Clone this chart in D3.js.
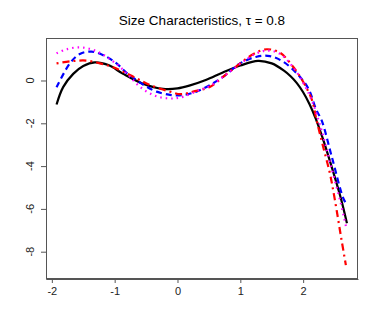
<!DOCTYPE html>
<html><head><meta charset="utf-8">
<script src="https://cdn.jsdelivr.net/npm/d3@7"></script>
<style>body{margin:0;background:#fff}svg{display:block}</style>
</head><body>
<svg id="c" width="382" height="327"></svg>
<script>
const xTicks = [-2, -1, 0, 1, 2];
const yTicks = [0, -2, -4, -6, -8];
const titleText = "Size Characteristics, \u03C4 = 0.8";

const blackX = [-1.925,-1.82,-1.66,-1.5,-1.315,-1.1,-0.865,-0.55,-0.23,0.0,0.2,0.45,0.73,1.0,1.28,1.5,1.7,1.8,1.9,2.0,2.1,2.2,2.3,2.43,2.6,2.697];
const blackY = [-1.12,-0.31,0.31,0.68,0.85,0.72,0.31,-0.15,-0.39,-0.37,-0.23,0.02,0.39,0.70,0.92,0.80,0.45,0.20,-0.12,-0.55,-1.10,-1.78,-2.60,-3.80,-5.50,-6.67];

const blueX = [-1.925,-1.713,-1.554,-1.368,-1.151,-0.970,-0.811,-0.652,-0.493,-0.333,-0.095,0.09,0.30,0.52,0.73,0.997,1.26,1.47,1.68,1.896,2.08,2.21,2.293,2.457,2.637,2.691];
const blueY = [-0.32,0.80,1.24,1.35,1.14,0.80,0.36,0.02,-0.29,-0.52,-0.68,-0.68,-0.52,-0.21,0.18,0.80,1.11,1.14,0.88,0.34,-0.36,-1.38,-1.85,-3.58,-5.49,-5.78];

const redX = [-1.925,-1.66,-1.447,-1.235,-1.023,-0.864,-0.651,-0.439,-0.12,0.04,0.147,0.25,0.52,0.73,0.997,1.21,1.42,1.63,1.84,2.0,2.14,2.213,2.318,2.425,2.505,2.611,2.68];
const redY = [0.80,0.91,0.93,0.80,0.62,0.41,0.10,-0.21,-0.52,-0.64,-0.60,-0.52,-0.29,0.18,0.80,1.24,1.46,1.30,0.64,-0.06,-0.91,-1.85,-3.09,-4.33,-5.58,-7.45,-8.63];

const magX = [-1.925,-1.766,-1.554,-1.342,-1.13,-0.917,-0.758,-0.599,-0.386,-0.174,0.038,0.356,0.52,0.73,1.0,1.21,1.42,1.63,1.84,2.0,2.14,2.29,2.43,2.6,2.69];
const magY = [1.27,1.46,1.55,1.43,1.11,0.64,0.18,-0.29,-0.68,-0.83,-0.80,-0.44,-0.25,0.18,0.78,1.20,1.40,1.25,0.62,-0.10,-0.95,-2.30,-3.85,-5.75,-6.93];

const series = [
  {x: blackX, y: blackY, color: "#000000", dash: null, w: 2.2},
  {x: blueX, y: blueY, color: "#0000ff", dash: "6,4", w: 2.2},
  {x: redX, y: redY, color: "#ff0000", dash: "2,4,7,4", w: 2.2},
  {x: magX, y: magY, color: "#ff00ff", dash: "1.5,4", w: 2.2}
];

const L = 46, R = 358, T = 38, B = 279;
const svg = d3.select("#c");
const x = d3.scaleLinear().domain([-2.093, 2.873]).range([L, R]);
const y = d3.scaleLinear().domain([-9.276, 1.986]).range([B, T]);

const line = d3.line().x(d => x(d[0])).y(d => y(d[1])).curve(d3.curveCatmullRom.alpha(0.5));

svg.append("clipPath").attr("id","cp").append("rect").attr("x",L).attr("y",T).attr("width",R-L).attr("height",B-T);

const g = svg.append("g").attr("clip-path","url(#cp)");
series.forEach(s => {
  const pts = s.x.map((v,i) => [v, s.y[i]]);
  g.append("path").attr("d", line(pts)).attr("fill","none")
    .attr("stroke", s.color).attr("stroke-width", s.w)
    .attr("stroke-dasharray", s.dash).attr("stroke-linejoin","round");
});

svg.append("rect").attr("x",L+0.5).attr("y",T+0.5).attr("width",R-L-1).attr("height",B-T-1)
  .attr("fill","none").attr("stroke","#555").attr("stroke-width",1);

// x axis
const xa = svg.append("g").attr("transform",`translate(0,${B})`)
  .call(d3.axisBottom(x).tickValues(xTicks).tickSize(4).tickSizeOuter(0).tickPadding(4).tickFormat(d => d < 0 ? "-" + Math.abs(d) : d));
xa.select(".domain").attr("stroke","#555");
xa.selectAll(".tick line").attr("stroke","#555");
xa.selectAll("text").attr("font-family","Liberation Sans, Arial, sans-serif").attr("font-size",11).attr("fill","#222");

// y axis
const ya = svg.append("g").attr("transform",`translate(${L},0)`)
  .call(d3.axisLeft(y).tickValues(yTicks).tickSize(5).tickSizeOuter(0).tickFormat(() => ""));
ya.select(".domain").attr("stroke","#555");
ya.selectAll(".tick line").attr("stroke","#555");
yTicks.forEach(t => {
  svg.append("text").attr("transform",`translate(34,${y(t)}) rotate(-90)`)
    .attr("text-anchor","middle").attr("font-family","Liberation Sans, Arial, sans-serif")
    .attr("font-size",11).attr("fill","#222").text(t < 0 ? "-" + Math.abs(t) : t);
});

svg.append("text").attr("x",(L+R)/2).attr("y",25).attr("text-anchor","middle")
  .attr("font-family","Liberation Sans, Arial, sans-serif").attr("font-size",13.5).attr("fill","#000")
  .text(titleText);
</script>
</body></html>
